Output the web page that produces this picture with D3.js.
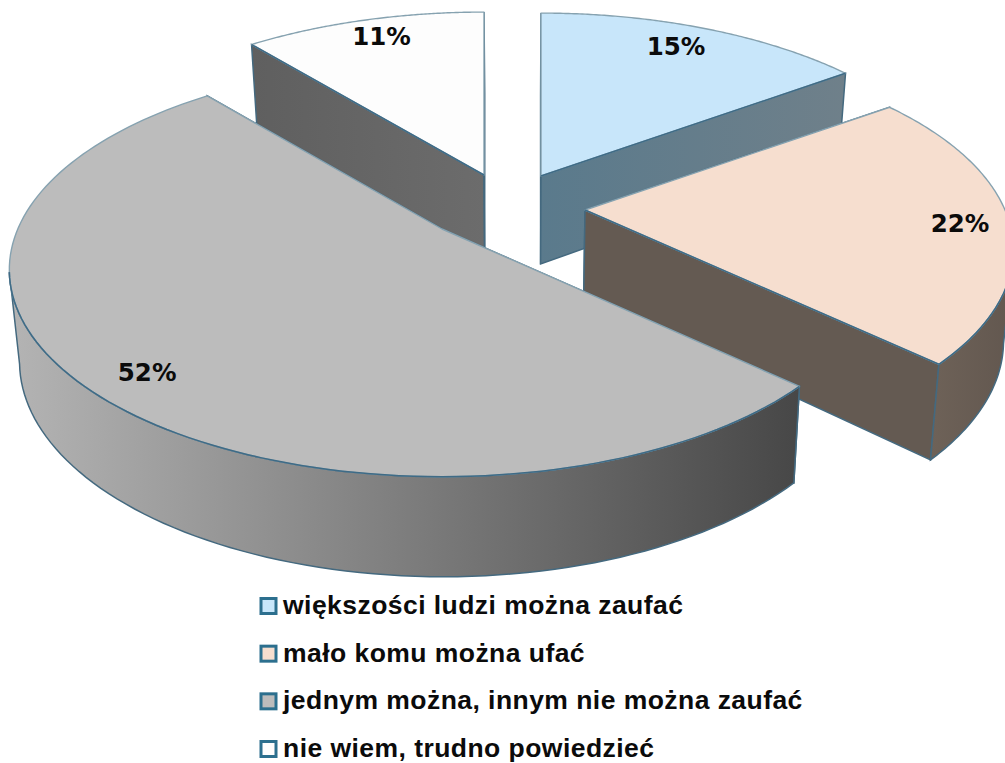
<!DOCTYPE html>
<html lang="pl"><head><meta charset="utf-8">
<script src="https://cdn.jsdelivr.net/npm/d3@7"></script>
<style>html,body{margin:0;background:#fff}svg{display:block}text{font-weight:bold;fill:#0b0b0b}</style>
</head><body><div id="c"></div>
<script>
const categories = ["większości ludzi można zaufać","mało komu można ufać","jednym można, innym nie można zaufać","nie wiem, trudno powiedzieć"];
const values = [15,22,52,11];
const valueLabels = ["15%","22%","52%","11%"];
const topColors = ["#c8e6fa","#f6decf","#bcbcbc","#fdfdfd"];
const radialWallStops = [["#5a7a8c","#6f808a"],["#645a52","#645a52"],["#555","#555"],["#5f5f5f","#6c6c6c"]];
const outerWallStops = [["#64808f","#6f808a"],["#6e6258","#62574f"],["#b4b4b4","#474747"],["#666","#666"]];
const apexes = [[541,176],[585,210],[442,229],[484,175]];
const sliceScaleX = [1,1,1.01,1];
const sliceScaleY = [1,1,1.02,1];
const labelRadius = [.85,.92,.85,.85];
const labelShift = [[-6,-1],[-15,2],[2,13],[2,-4]];
const drawOrder = [3,0,1,2];

const W=1005,H=763, RX=420, RY=195, P=.197, VX=520, SHRINK=.98;
const svg=d3.select("#c").append("svg").attr("width",W).attr("height",H);
const defs=svg.append("defs");
const slices=d3.pie().sort(null).value(d=>d)(values);

function project(i,ang,r){
  const X=Math.sin(ang)*r,Y=-Math.cos(ang)*r,s=1/(1-P*Y);
  return [apexes[i][0]+RX*sliceScaleX[i]*X*s, apexes[i][1]+RY*sliceScaleY[i]*Y*s];
}
const lower=p=>[VX+(p[0]-VX)*SHRINK, p[1]+87+(p[1]-150)*.04];
const line=d3.line();
const facing=(ang)=>Math.cos(ang)<=-.2;
const samples=d=>d3.range(0,121).map(k=>d3.interpolateNumber(d.startAngle,d.endAngle)(k/120));

function gradient(id,st){
  const g=defs.append("linearGradient").attr("id",id).attr("x1",0).attr("x2",1).attr("y1",0).attr("y2",0);
  g.append("stop").attr("offset",0).attr("stop-color",st[0]);
  g.append("stop").attr("offset",1).attr("stop-color",st[1]);
}
outerWallStops.forEach((st,i)=>gradient("w"+i,st));
radialWallStops.forEach((st,i)=>gradient("r"+i,st));
const wallEdge="#44697f", topEdge="#86a2b0", frontEdge="#3f6b86";
const gs=svg.append("g").selectAll("g").data(drawOrder).join("g");
gs.each(function(i){
  const g=d3.select(this), d=slices[i], apex=apexes[i];
  const a=project(i,d.startAngle,1), b=project(i,d.endAngle,1);
  [a,b].forEach(p=>{
    g.append("path").attr("d",line([apex,p,lower(p),lower(apex)])+"Z")
     .attr("fill",`url(#r${i})`).attr("stroke",wallEdge).attr("stroke-width",1.5);
  });
  const frontAngs=samples(d).filter(facing);
  const front=frontAngs.map(t=>project(i,t,1));
  if(front.length>1){
    g.append("path").attr("d",line(front.concat(front.map(lower).reverse()))+"Z")
     .attr("fill",`url(#w${i})`).attr("stroke",wallEdge).attr("stroke-width",1.5);
  }
  const top=samples(d).map(t=>project(i,t,1));
  g.append("path").attr("d",line([apex].concat(top))+"Z")
   .attr("fill",topColors[i]).attr("stroke",topEdge).attr("stroke-width",1.4).attr("stroke-linejoin","round");
  // edges of the top face that meet a visible wall are drawn darker
  const m=project(i,(d.startAngle+d.endAngle)/2,.6);
  [a,b].forEach(p=>{
    const dx=p[0]-apex[0];
    if(Math.abs(dx)<20) return;
    const edgeY=apex[1]+(m[0]-apex[0])/dx*(p[1]-apex[1]);
    if(m[1]<edgeY) g.append("path").attr("d",line([apex,p])).attr("fill","none").attr("stroke",frontEdge).attr("stroke-width",1.5);
  });
  if(front.length>1) g.append("path").attr("d",line(front)).attr("fill","none").attr("stroke",frontEdge).attr("stroke-width",1.5);
});
svg.append("g").selectAll("text").data(slices).join("text")
  .attr("text-anchor","middle").attr("dominant-baseline","central")
  .attr("font-family","'DejaVu Sans'").attr("font-size",24.5)
  .attr("x",(d,i)=>project(i,(d.startAngle+d.endAngle)/2,labelRadius[i])[0]+labelShift[i][0])
  .attr("y",(d,i)=>project(i,(d.startAngle+d.endAngle)/2,labelRadius[i])[1]+labelShift[i][1])
  .text((d,i)=>valueLabels[i]);

const ly=d3.scalePoint().domain(categories).range([606,749]);
const lg=svg.append("g").selectAll("g").data(categories).join("g").attr("transform",d=>`translate(0,${ly(d)})`);
lg.append("rect").attr("x",261).attr("y",-7.5).attr("width",15).attr("height",15)
  .attr("fill",(d,i)=>topColors[i]).attr("stroke","#2c6f8e").attr("stroke-width",3);
lg.append("text").attr("x",283).attr("y",8).attr("font-family","'Liberation Sans'").attr("font-size",26.5).attr("letter-spacing",.45).text(d=>d);
</script></body></html>
